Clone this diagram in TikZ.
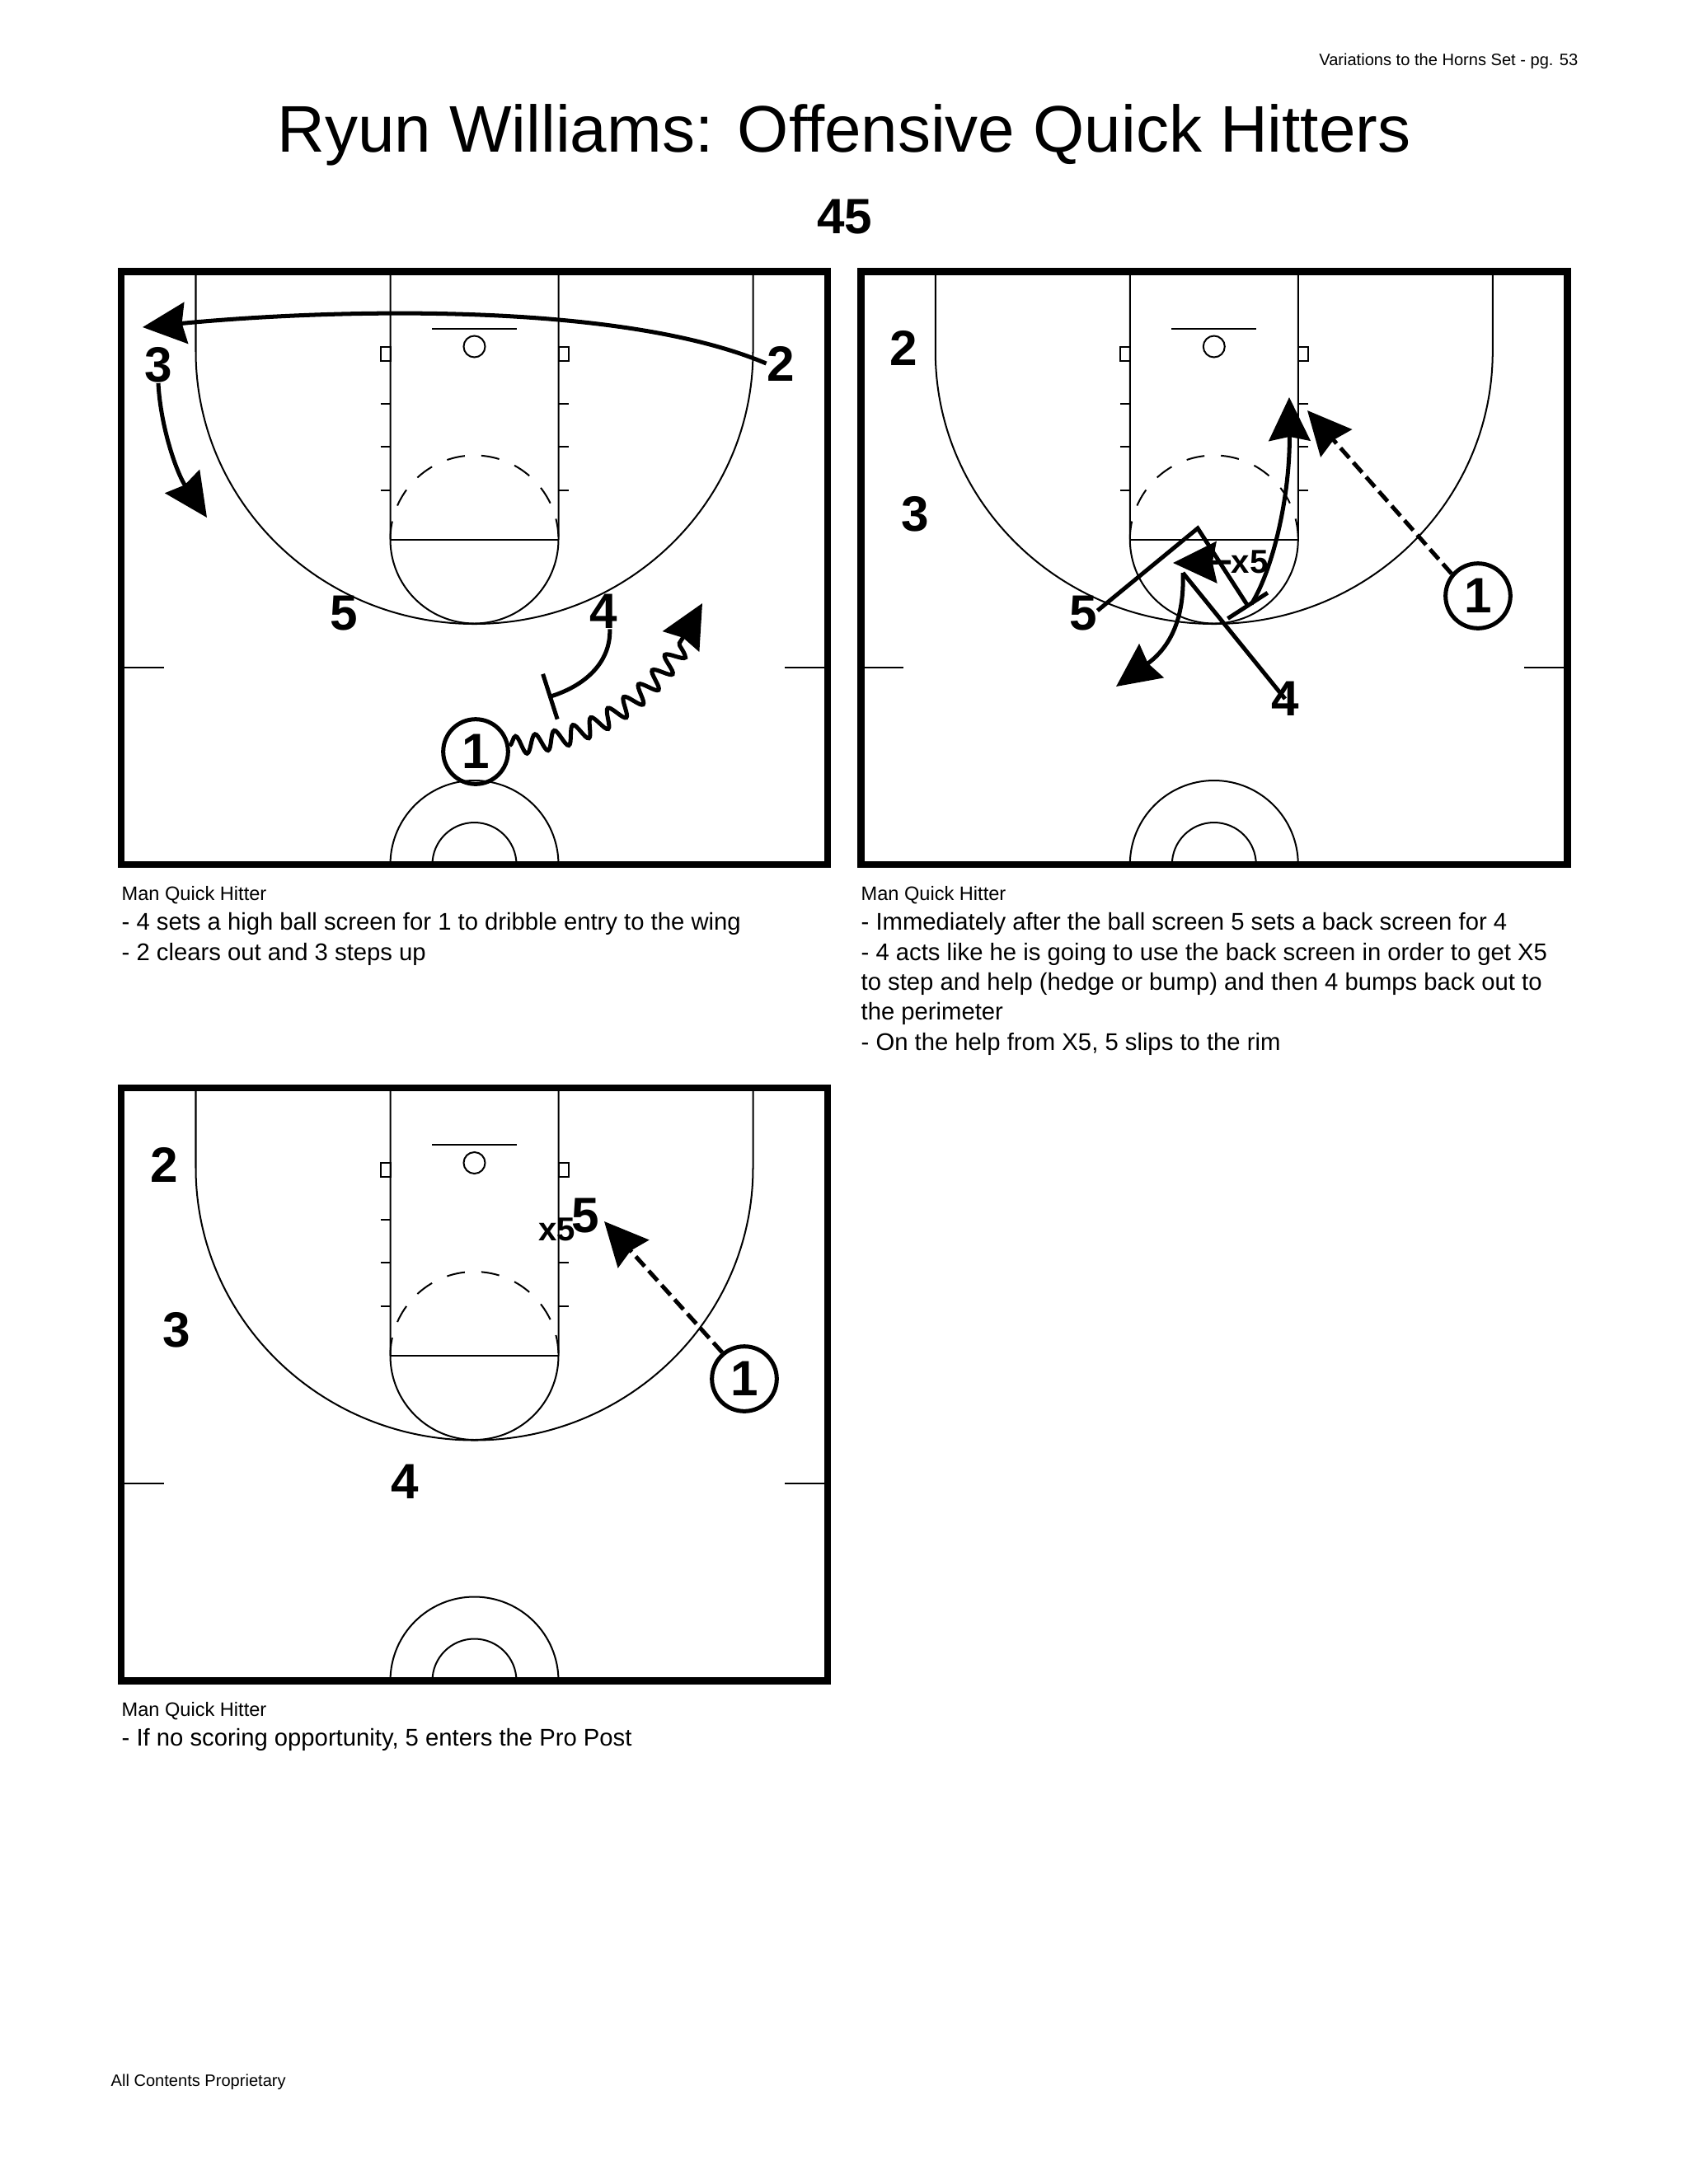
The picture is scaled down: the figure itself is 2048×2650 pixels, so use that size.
\documentclass[tikz,border=0pt]{standalone}
\usepackage{fontspec}
\setmainfont{Liberation Sans}[Ligatures=NoCommon]
\usetikzlibrary{arrows.meta,decorations.pathmorphing}

\begin{document}
\begin{tikzpicture}[
	x=0.29883bp, y=-0.29883bp,
	l/.style = {line width=0.6bp},
	f/.style = {line width=2.63bp},
	p/.style = {font=\fontsize{18bp}{18bp}\selectfont\bfseries, inner sep=0pt},
	h/.style = {circle, draw, line width=1.5bp, minimum size=23.5bp, inner sep=0pt, font=\fontsize{18bp}{18bp}\selectfont\bfseries},
	x5/.style = {font=\fontsize{12bp}{12bp}\selectfont\bfseries, inner sep=0pt},
	r/.style = {-{Stealth[length=15.8bp, width=15bp, inset=1.5bp]}, line width=1.5bp},
	v/.style = {r, dash pattern=on 4.8bp off 2.2bp},
	w/.style = {r, line width=1.5bp, decorate, decoration={snake, amplitude=3.3bp, segment length=7.4bp, post length=13bp}},
	s/.style = {-{Bar[width=17.2bp]}, line width=1.5bp},
	c/.style = {anchor=north west, align=left, inner sep=0pt, font=\fontsize{8.74bp}{10.85bp}\selectfont},
	m/.style = {anchor=west, inner sep=0pt, font=\fontsize{7.05bp}{8bp}\selectfont},
	court/.pic = {
		\draw[f] (0, 0) rectangle (857, 719.5);
		% Arcs
		\draw[l] (90.5, 0) -- (90.5, 97) arc[start angle=180, end angle=0, x radius=338, y radius=330.5] -- (766.5, 0);
		\draw[l] (326.5, 0) -- (326.5, 325) arc[start angle=180, end angle=0, radius=102] -- (530.5, 0);
		\draw[l] (326.5, 325) -- (530.5, 325);
		\draw[l, dash pattern=on 6.6bp off 6bp] (326.5, 325) arc[start angle=180, end angle=360, radius=102];
		% Rim
		\draw[l] (377, 69) -- (480, 69);
		\draw[l] (428.5, 91) circle[radius=13];
		\draw[l] (314.5, 91) rectangle (326.5, 108);
		\draw[l] (530.5, 91) rectangle (542.5, 108);
		% Ticks
		\draw[l] (314.5, 160) -- (326.5, 160);
		\draw[l] (314.5, 212) -- (326.5, 212);
		\draw[l] (314.5, 265) -- (326.5, 265);
		\draw[l] (530.5, 160) -- (542.5, 160);
		\draw[l] (530.5, 212) -- (542.5, 212);
		\draw[l] (530.5, 265) -- (542.5, 265);
		\draw[l] (0, 480) -- (52, 480);
		\draw[l] (805, 480) -- (857, 480);
		% Bottom
		\draw[l] (326.5, 719.5) arc[start angle=180, end angle=360, radius=102];
		\draw[l] (377.5, 719.5) arc[start angle=180, end angle=360, radius=51];
	}
	]
	\useasboundingbox (0, 0) rectangle (2048, 2650);
	
	% ===== ===== ===== ===== =====
	
	% Heading
	\node[inner sep=0pt, anchor=east, font=\fontsize{6bp}{8bp}\selectfont]	(pg)	at	(1915, 74)	{Variations to the Horns Set - pg. 53};
	\node[inner sep=0pt, font=\fontsize{23.9bp}{26bp}\selectfont]	(title)	at	(1024, 164)	{Ryun Williams: Offensive Quick Hitters};
	\node[inner sep=0pt, font=\fontsize{18bp}{18bp}\selectfont\bfseries]	(num)	at	(1025, 263)	{45};
	\node[m, font=\fontsize{6bp}{8bp}\selectfont]	(foot)	at	(134, 2526)	{All Contents Proprietary};
	
	% ===== ===== ===== ===== =====
	
	\pic	at	(147, 329.5)	{court};
	
	% Nodes
	\node[h]	(1p1)	at	(577, 912)	{1};
	\node[p]	(1p2)	at	(947, 441)	{2};
	\node[p]	(1p3)	at	(192, 443)	{3};
	\node[p]	(1p4)	at	(732, 742)	{4};
	\node[p]	(1p5)	at	(417, 744)	{5};
	
	\coordinate	(1a)	at	(173, 397);
	\coordinate	(1b)	at	(251, 628);
	\coordinate	(1c)	at	(665, 846);
	\coordinate	(1d)	at	(852, 732);
	
	% Lines
	\draw[r]	(1p2.west)	..	controls (750, 365) and (400, 375)	..	(1a);
	\draw[r]	(1p3.south)	..	controls (195, 520) and (215, 575)	..	(1b);
	\draw[s]	(1p4.-70)	..	controls (741, 800) and (715, 830)	..	(1c);
	\draw[w]	(1p1.10)	..	controls (700, 900) and (785, 865)	..	(1d);
	
	% Text
	\node[m]	(1t)	at	(147, 1086)	{Man Quick Hitter};
	\node[c]	(1u)	at	(147, 1107)	{- 4 sets a high ball screen for 1 to dribble entry to the wing\\- 2 clears out and 3 steps up};
	
	% ===== ===== ===== ===== =====
	
	\pic	at	(1044.3, 329.5)	{court};
	
	% Nodes
	\node[h]	(2p1)	at	(1793, 723)	{1};
	\node[p]	(2p2)	at	(1096, 422)	{2};
	\node[p]	(2p3)	at	(1110, 624)	{3};
	\node[p]	(2p4)	at	(1559, 848)	{4};
	\node[p]	(2p5)	at	(1314, 744)	{5};
	\node[x5]	(2x)	at	(1516, 682)	{x5};
	
	\coordinate	(2a)	at	(1453, 641);
	\coordinate	(2b)	at	(1515, 737);
	\coordinate	(2c)	at	(1518, 733);
	\coordinate	(2d)	at	(1564, 482);
	\coordinate	(2e)	at	(1435, 695);
	\coordinate	(2f)	at	(1354, 833);
	\coordinate	(2g)	at	(1423, 683);
	\coordinate	(2h)	at	(1586, 498);
	
	% Lines
	\draw[s, line join=miter]	(2p5.10)	--	(2a)	--	(2b);
	\draw[r]	(2c)	..	controls (1545, 690) and (1565, 600)	..	(2d);
	\draw[line width=1.5bp]	(2p4.center)	--	(2e);
	\draw[r]	(2e)	..	controls (1437, 750) and (1420, 785)	..	(2f);
	\draw[r]	(2x.west)	--	(2g);
	\draw[v]	(2p1.140)	--	(2h);
	
	% Text
	\node[m]	(2t)	at	(1044, 1086)	{Man Quick Hitter};
	\node[c]	(2u)	at	(1044, 1107)	{- Immediately after the ball screen 5 sets a back screen for 4\\- 4 acts like he is going to use the back screen in order to get X5\\to step and help (hedge or bump) and then 4 bumps back out to\\the perimeter\\- On the help from X5, 5 slips to the rim};
	
	% ===== ===== ===== ===== =====
	
	\pic	at	(147, 1320)	{court};
	
	% Nodes
	\node[h]	(3p1)	at	(903, 1673)	{1};
	\node[p]	(3p2)	at	(199, 1413)	{2};
	\node[p]	(3p3)	at	(214, 1614)	{3};
	\node[p]	(3p4)	at	(491, 1798)	{4};
	\node[p]	(3p5)	at	(710, 1475)	{5};
	\node[x5]	(3x)	at	(676, 1492)	{x5};
	
	\coordinate	(3a)	at	(733, 1482);
	
	% Lines
	\draw[v]	(3p1.130)	--	(3a);
	
	% Text
	\node[m]	(3t)	at	(147, 2076)	{Man Quick Hitter};
	\node[c]	(3u)	at	(147, 2097)	{- If no scoring opportunity, 5 enters the Pro Post};
	
\end{tikzpicture}
\end{document}
